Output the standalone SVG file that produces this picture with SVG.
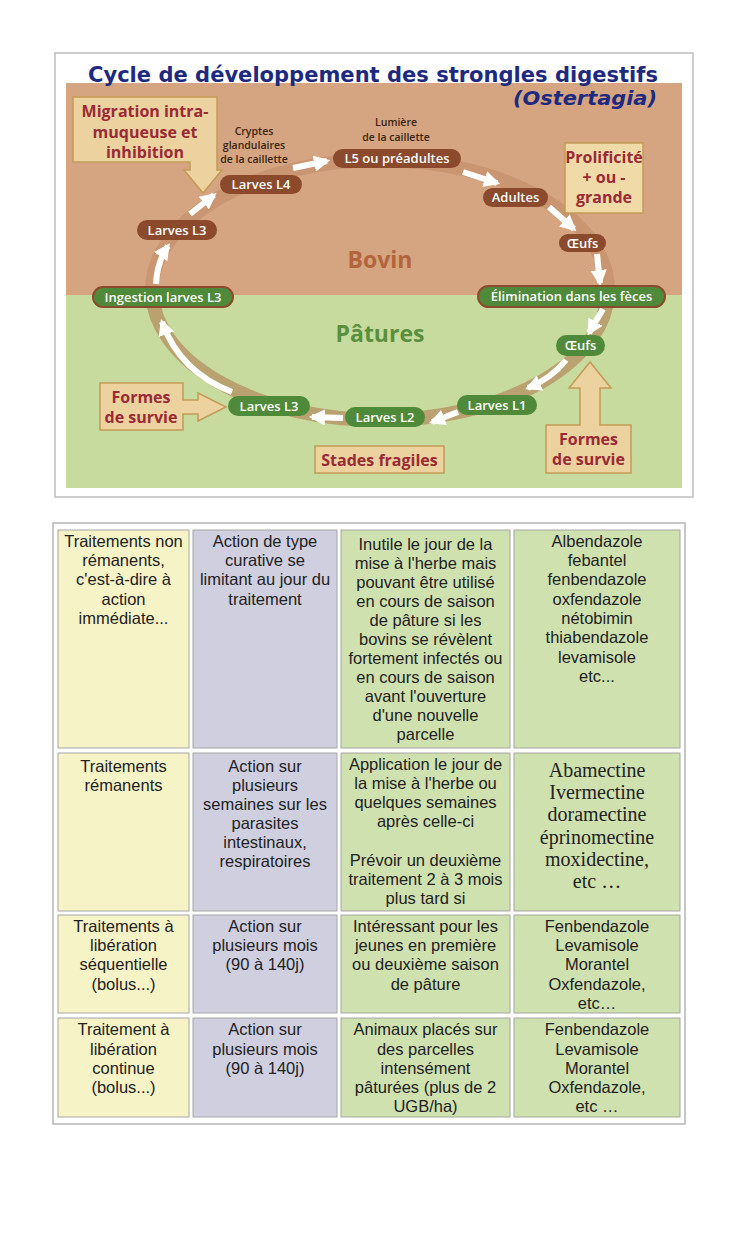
<svg xmlns="http://www.w3.org/2000/svg" width="747" height="1244" viewBox="0 0 747 1244">
<style>
.pb{fill:#8b4a2c}
.pg{fill:#4f8a3a}
.pgs{fill:#4f8a3a;stroke:#8b4a2c;stroke-width:2}
.pt{font-family:"Open Sans","Noto Sans",sans-serif;font-weight:600;font-size:13px;fill:#fff;text-anchor:middle}
.note{fill:#ecd29e;stroke:#c49a58;stroke-width:1.5}
.nt{font-family:"Open Sans","Noto Sans",sans-serif;font-weight:700;font-size:16px;fill:#9a2a35;text-anchor:middle}
.sm{font-family:"Open Sans","Noto Sans",sans-serif;font-weight:600;font-size:10.5px;fill:#3b2412;text-anchor:middle}
.arr{fill:none;stroke:#fff;stroke-width:6;marker-end:url(#ah)}
.c1{fill:#f6f3c6;stroke:#a6a6a6;stroke-width:1}
.c2{fill:#cfcfe0;stroke:#a6a6a6;stroke-width:1}
.c3{fill:#d0e1b0;stroke:#a6a6a6;stroke-width:1}
.tt{font-family:"Liberation Sans",Arial,sans-serif;font-size:16.5px;fill:#222;text-anchor:middle}
.ts{font-family:"Liberation Serif","Times New Roman",serif;font-size:20px;fill:#222;text-anchor:middle}
</style>
<defs>
<marker id="ah" viewBox="0 0 10 10" refX="8" refY="5" markerWidth="2.7" markerHeight="2.7" orient="auto">
<path d="M0,0 L10,5 L0,10 z" fill="#fff"/>
</marker>
<clipPath id="clipTop"><rect x="0" y="0" width="747" height="295"/></clipPath>
<clipPath id="clipBot"><rect x="0" y="295" width="747" height="300"/></clipPath>
</defs>
<rect width="747" height="1244" fill="#fff"/>

<g id="diagram-frame">
<rect x="55" y="53" width="638" height="444" fill="#fff" stroke="#bdbdbd" stroke-width="1.5"/>
<rect x="66" y="83" width="616" height="212" fill="#d4a580"/>
<rect x="66" y="295" width="616" height="193" fill="#c7db9f"/>
<text x="88" y="82" font-family="'DejaVu Sans',sans-serif" font-weight="700" font-size="22" fill="#1d2a80" textLength="570" lengthAdjust="spacingAndGlyphs">Cycle de développement des strongles digestifs</text>
<text x="513" y="105" font-family="'DejaVu Sans',sans-serif" font-weight="700" font-style="italic" font-size="20" fill="#1d2a80" textLength="144" lengthAdjust="spacingAndGlyphs">(Ostertagia)</text>
<text x="380" y="268" font-family="'Open Sans',sans-serif" font-weight="700" font-size="23" fill="#b3643c" text-anchor="middle">Bovin</text>
<text x="380" y="342" font-family="'Open Sans',sans-serif" font-weight="700" font-size="23" fill="#5a8f3e" text-anchor="middle">Pâtures</text>
<ellipse cx="380" cy="290" rx="228" ry="130" fill="none" stroke="#b57a55" stroke-opacity="0.35" stroke-width="14" clip-path="url(#clipTop)"/>
<ellipse cx="380" cy="290" rx="228" ry="130" fill="none" stroke="#b07a52" stroke-opacity="0.6" stroke-width="14" clip-path="url(#clipBot)"/>
</g>

<g id="connectors">
<path class="arr" d="M156,284 Q157,262 168,246"/>
<path class="arr" d="M190,214 L214,195"/>
<path class="arr" d="M293,168 L327,161"/>
<path class="arr" d="M463,172 L497,183"/>
<path class="arr" d="M549,207 L574,229"/>
<path class="arr" d="M597,254 L600,283"/>
<path class="arr" d="M603,309 L589,333"/>
<path class="arr" d="M566,360 Q552,378 528,388"/>
<path class="arr" d="M458,412 L432,422"/>
<path class="arr" d="M343,418 L312,417"/>
<path class="arr" d="M232,392 Q180,372 162,322"/>
</g>

<g id="note-migration">
<polygon class="note" points="73,97 217,97 217,170 222,170 203,193 184,170 190,170 190,162 73,162"/>
<text class="nt" x="145" y="117">Migration intra-</text>
<text class="nt" x="145" y="138">muqueuse et</text>
<text class="nt" x="145" y="158">inhibition</text>
</g>
<g id="note-prolificite">
<rect class="note" x="565" y="143" width="78" height="70" style="fill:#f0daa8"/>
<text class="nt" x="604" y="163">Prolificité</text>
<text class="nt" x="604" y="183">+ ou -</text>
<text class="nt" x="604" y="203">grande</text>
</g>
<g id="note-formes-left">
<polygon class="note" points="100,383 183,383 183,400 198,400 198,393 226,407 198,421 198,414 183,414 183,430 100,430"/>
<text class="nt" x="141" y="403">Formes</text>
<text class="nt" x="141" y="423">de survie</text>
</g>
<g id="note-stades">
<rect class="note" x="315" y="446" width="129" height="27"/>
<text class="nt" x="379.5" y="466">Stades fragiles</text>
</g>
<g id="note-formes-right">
<polygon class="note" points="546,425 580,425 580,388 569,388 590,362 611,388 600,388 600,425 631,425 631,473 546,473"/>
<text class="nt" x="588.5" y="445">Formes</text>
<text class="nt" x="588.5" y="465">de survie</text>
</g>

<g id="label-cryptes">
<text class="sm" x="254" y="135">Cryptes</text>
<text class="sm" x="254" y="149">glandulaires</text>
<text class="sm" x="254" y="163">de la caillette</text>
</g>
<g id="label-lumiere">
<text class="sm" x="396" y="126">Lumière</text>
<text class="sm" x="396" y="141">de la caillette</text>
</g>

<g id="n-l4"><rect class="pb" x="220" y="175" width="82" height="19" rx="9.5"/><text class="pt" x="261" y="189">Larves L4</text></g>
<g id="n-l3-bovin"><rect class="pb" x="137" y="220" width="80" height="20" rx="10"/><text class="pt" x="177" y="235">Larves L3</text></g>
<g id="n-l5"><rect class="pb" x="333" y="149" width="128" height="19" rx="9.5"/><text class="pt" x="397" y="163">L5 ou préadultes</text></g>
<g id="n-adultes"><rect class="pb" x="483" y="188" width="65" height="19" rx="9.5"/><text class="pt" x="515.5" y="202">Adultes</text></g>
<g id="n-oeufs-bovin"><rect class="pb" x="559" y="234" width="47" height="18" rx="9"/><text class="pt" x="582.5" y="247.5">Œufs</text></g>
<g id="n-elimination"><rect class="pgs" x="478" y="286" width="187" height="21" rx="10.5"/><text class="pt" x="571.5" y="301">Élimination dans les fèces</text></g>
<g id="n-ingestion"><rect class="pgs" x="93" y="287" width="140" height="20" rx="10"/><text class="pt" x="163" y="301.5">Ingestion larves L3</text></g>
<g id="n-oeufs-pature"><rect class="pg" x="556" y="335" width="49" height="21" rx="10.5"/><text class="pt" x="580.5" y="350">Œufs</text></g>
<g id="n-l1"><rect class="pg" x="457" y="395" width="80" height="20" rx="10"/><text class="pt" x="497" y="409.5">Larves L1</text></g>
<g id="n-l2"><rect class="pg" x="345" y="407" width="80" height="20" rx="10"/><text class="pt" x="385" y="421.5">Larves L2</text></g>
<g id="n-l3-pature"><rect class="pg" x="228" y="396" width="82" height="20" rx="10"/><text class="pt" x="269" y="410.5">Larves L3</text></g>

<g id="table">
<rect x="53" y="523" width="632" height="601" fill="#fff" stroke="#b5b5b5" stroke-width="1.5"/>
<g id="row1">
<rect class="c1" x="58" y="530" width="131" height="218"/>
<rect class="c2" x="193" y="530" width="144" height="218"/>
<rect class="c3" x="341" y="530" width="169" height="218"/>
<rect class="c3" x="514" y="530" width="166" height="218"/>
<text class="tt" x="123.5" y="547">Traitements non</text>
<text class="tt" x="123.5" y="566">rémanents,</text>
<text class="tt" x="123.5" y="585">c'est-à-dire à</text>
<text class="tt" x="123.5" y="605">action</text>
<text class="tt" x="123.5" y="624">immédiate...</text>
<text class="tt" x="265" y="547">Action de type</text>
<text class="tt" x="265" y="566">curative se</text>
<text class="tt" x="265" y="585">limitant au jour du</text>
<text class="tt" x="265" y="605">traitement</text>
<text class="tt" x="425.5" y="550">Inutile le jour de la</text>
<text class="tt" x="425.5" y="569">mise à l'herbe mais</text>
<text class="tt" x="425.5" y="588">pouvant être utilisé</text>
<text class="tt" x="425.5" y="607">en cours de saison</text>
<text class="tt" x="425.5" y="626">de pâture si les</text>
<text class="tt" x="425.5" y="645">bovins se révèlent</text>
<text class="tt" x="425.5" y="664">fortement infectés ou</text>
<text class="tt" x="425.5" y="683">en cours de saison</text>
<text class="tt" x="425.5" y="702">avant l'ouverture</text>
<text class="tt" x="425.5" y="721">d'une nouvelle</text>
<text class="tt" x="425.5" y="740">parcelle</text>
<text class="tt" x="597" y="547">Albendazole</text>
<text class="tt" x="597" y="566">febantel</text>
<text class="tt" x="597" y="585">fenbendazole</text>
<text class="tt" x="597" y="605">oxfendazole</text>
<text class="tt" x="597" y="624">nétobimin</text>
<text class="tt" x="597" y="643">thiabendazole</text>
<text class="tt" x="597" y="663">levamisole</text>
<text class="tt" x="597" y="682">etc...</text>
</g>
<g id="row2">
<rect class="c1" x="58" y="753" width="131" height="158"/>
<rect class="c2" x="193" y="753" width="144" height="158"/>
<rect class="c3" x="341" y="753" width="169" height="158"/>
<rect class="c3" x="514" y="753" width="166" height="158"/>
<text class="tt" x="123.5" y="772">Traitements</text>
<text class="tt" x="123.5" y="791">rémanents</text>
<text class="tt" x="265" y="772">Action sur</text>
<text class="tt" x="265" y="791">plusieurs</text>
<text class="tt" x="265" y="810">semaines sur les</text>
<text class="tt" x="265" y="829">parasites</text>
<text class="tt" x="265" y="848">intestinaux,</text>
<text class="tt" x="265" y="867">respiratoires</text>
<text class="tt" x="425.5" y="770">Application le jour de</text>
<text class="tt" x="425.5" y="789">la mise à l'herbe ou</text>
<text class="tt" x="425.5" y="808">quelques semaines</text>
<text class="tt" x="425.5" y="827">après celle-ci</text>
<text class="tt" x="425.5" y="866">Prévoir un deuxième</text>
<text class="tt" x="425.5" y="885">traitement 2 à 3 mois</text>
<text class="tt" x="425.5" y="904">plus tard si</text>
<text class="ts" x="597" y="777">Abamectine</text>
<text class="ts" x="597" y="799">Ivermectine</text>
<text class="ts" x="597" y="821">doramectine</text>
<text class="ts" x="597" y="844">éprinomectine</text>
<text class="ts" x="597" y="866">moxidectine,</text>
<text class="ts" x="597" y="888">etc …</text>
</g>
<g id="row3">
<rect class="c1" x="58" y="915" width="131" height="98"/>
<rect class="c2" x="193" y="915" width="144" height="98"/>
<rect class="c3" x="341" y="915" width="169" height="98"/>
<rect class="c3" x="514" y="915" width="166" height="98"/>
<text class="tt" x="123.5" y="932">Traitements à</text>
<text class="tt" x="123.5" y="951">libération</text>
<text class="tt" x="123.5" y="970">séquentielle</text>
<text class="tt" x="123.5" y="990">(bolus...)</text>
<text class="tt" x="265" y="932">Action sur</text>
<text class="tt" x="265" y="951">plusieurs mois</text>
<text class="tt" x="265" y="970">(90 à 140j)</text>
<text class="tt" x="425.5" y="932">Intéressant pour les</text>
<text class="tt" x="425.5" y="951">jeunes en première</text>
<text class="tt" x="425.5" y="970">ou deuxième saison</text>
<text class="tt" x="425.5" y="990">de pâture</text>
<text class="tt" x="597" y="932">Fenbendazole</text>
<text class="tt" x="597" y="951">Levamisole</text>
<text class="tt" x="597" y="970">Morantel</text>
<text class="tt" x="597" y="990">Oxfendazole,</text>
<text class="tt" x="597" y="1009">etc…</text>
</g>
<g id="row4">
<rect class="c1" x="58" y="1018" width="131" height="99"/>
<rect class="c2" x="193" y="1018" width="144" height="99"/>
<rect class="c3" x="341" y="1018" width="169" height="99"/>
<rect class="c3" x="514" y="1018" width="166" height="99"/>
<text class="tt" x="123.5" y="1035">Traitement à</text>
<text class="tt" x="123.5" y="1055">libération</text>
<text class="tt" x="123.5" y="1074">continue</text>
<text class="tt" x="123.5" y="1093">(bolus...)</text>
<text class="tt" x="265" y="1035">Action sur</text>
<text class="tt" x="265" y="1055">plusieurs mois</text>
<text class="tt" x="265" y="1074">(90 à 140j)</text>
<text class="tt" x="425.5" y="1035">Animaux placés sur</text>
<text class="tt" x="425.5" y="1055">des parcelles</text>
<text class="tt" x="425.5" y="1074">intensément</text>
<text class="tt" x="425.5" y="1093">pâturées (plus de 2</text>
<text class="tt" x="425.5" y="1112">UGB/ha)</text>
<text class="tt" x="597" y="1035">Fenbendazole</text>
<text class="tt" x="597" y="1055">Levamisole</text>
<text class="tt" x="597" y="1074">Morantel</text>
<text class="tt" x="597" y="1093">Oxfendazole,</text>
<text class="tt" x="597" y="1112">etc …</text>
</g>
</g>
</svg>
